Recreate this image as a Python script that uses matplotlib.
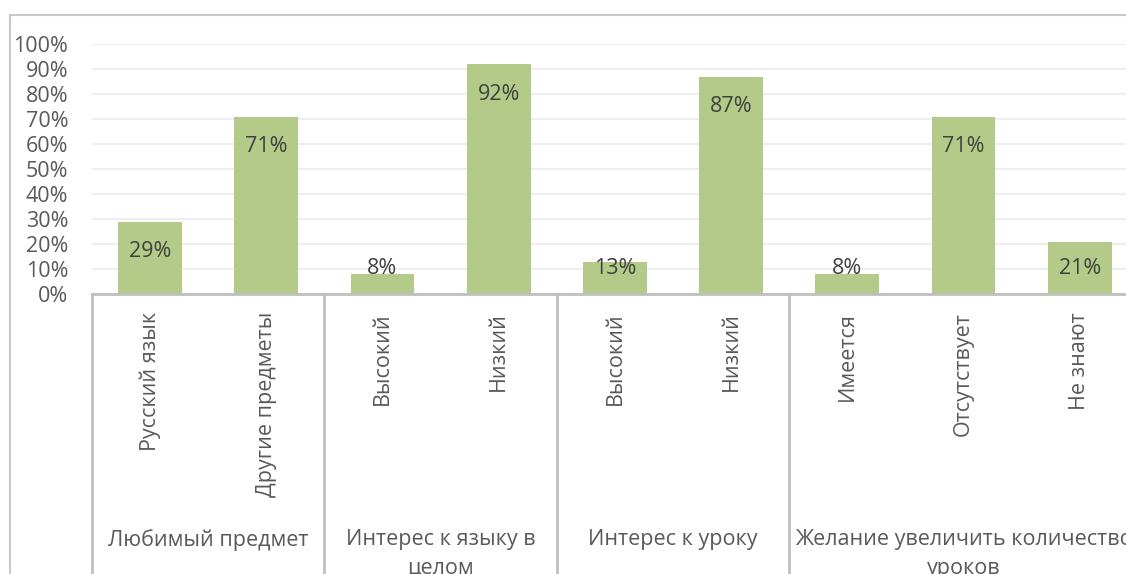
import matplotlib
matplotlib.use("Agg")
import matplotlib.pyplot as plt
from matplotlib.lines import Line2D
from matplotlib.ticker import PercentFormatter

plt.rcParams['font.family'] = ['Open Sans', 'DejaVu Sans']

# данные
labels = ["Русский язык", "Другие предметы", "Высокий", "Низкий", "Высокий",
          "Низкий", "Имеется", "Отсутствует", "Не знают"]
values = [0.29, 0.71, 0.08, 0.92, 0.13, 0.87, 0.08, 0.71, 0.21]
groups = ["Любимый предмет", "Интерес к языку в\nцелом", "Интерес к уроку",
          "Желание увеличить количество\nуроков"]
group_sizes = [2, 2, 2, 3]

bar_color = "#b3ca88"
text_color = "#595959"
line_color = "#bfbfbf"
fs = 15.5

W, H = 1126, 574
fig = plt.figure(figsize=(W / 100, H / 100), dpi=100)
slot = 116.2
left_px, zero_px, top_px = 92, 294, 44
ax = fig.add_axes([left_px / W, (H - zero_px) / H,
                   9 * slot / W, (zero_px - top_px) / H])

x = list(range(len(values)))
ax.bar(x, values, width=0.55, color=bar_color, zorder=2)
ax.set_xlim(-0.5, len(values) - 0.5)
ax.set_ylim(0, 1)
ax.set_yticks([i / 10 for i in range(11)])
ax.yaxis.set_major_formatter(PercentFormatter(1.0, decimals=0))
ax.tick_params(axis="y", length=0, pad=17, labelsize=fs, labelcolor=text_color)
ax.set_xticks([])
ax.grid(axis="y", color="#eeeeee", linewidth=1.6, zorder=0)
for s in ax.spines.values():
    s.set_visible(False)

# подписи данных
for xi, v in zip(x, values):
    ax.text(xi, max(v - 0.12, 0.10), f"{round(v * 100)}%", ha="center",
            va="center", fontsize=fs, color="#404040", zorder=3)

# ось категорий
tr = ax.get_xaxis_transform()
ax.plot([-0.5, len(values) - 0.5], [0, 0], color=line_color, lw=2,
        transform=tr, clip_on=False, zorder=4)
for xi, lab in zip(x, labels):
    ax.annotate(lab, (xi, 0), xycoords=tr, xytext=(0, -13),
                textcoords="offset points", rotation=90, ha="center",
                va="top", fontsize=fs, color=text_color,
                annotation_clip=False)

start = -0.5
for g, n in zip(groups, group_sizes):
    ax.plot([start, start], [0, -1.2], color=line_color, lw=2,
            transform=tr, clip_on=False)
    ax.annotate(g, (start + n / 2, 0), xycoords=tr, xytext=(0, -169),
                textcoords="offset points", ha="center", va="top",
                fontsize=fs, color=text_color, linespacing=1.5,
                annotation_clip=False)
    start += n

# рамка диаграммы
fig.add_artist(Line2D([10 / W, 10 / W], [0, 1 - 15 / H], color="#c8c8c8", lw=1.5))
fig.add_artist(Line2D([10 / W, 1], [1 - 15 / H, 1 - 15 / H], color="#c8c8c8", lw=1.5))

fig.savefig("out.png", dpi=100)
